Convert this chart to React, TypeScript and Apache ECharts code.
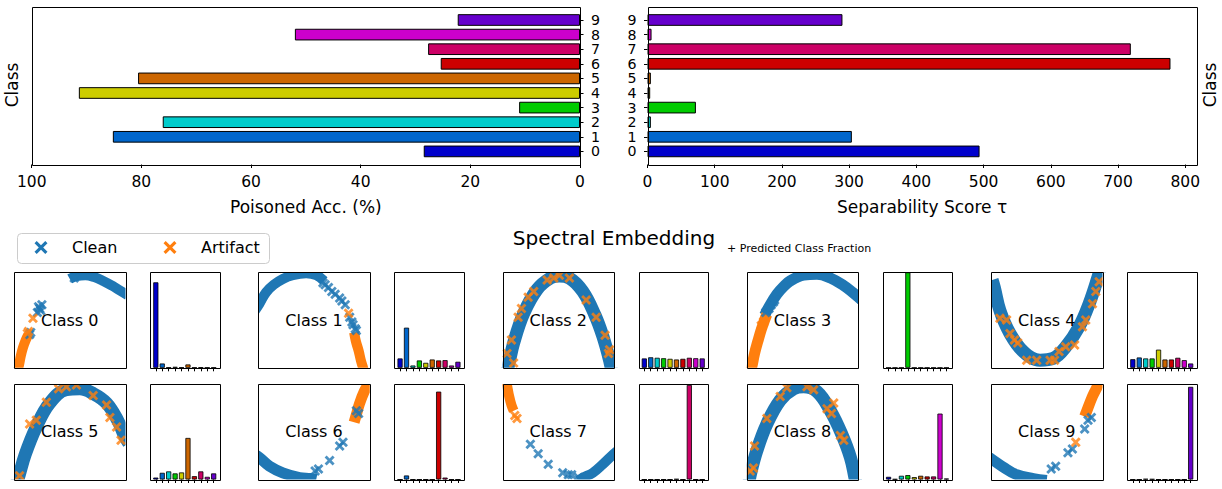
import React, { useEffect, useRef } from "react";
import * as echarts from "echarts";

// ---------- data ----------
const classLabels = ["0", "1", "2", "3", "4", "5", "6", "7", "8", "9"];
const classColors = ["#0000cc", "#0066cc", "#00cccc", "#00cc00", "#cccc00", "#cc6600", "#cc0000", "#cc0066", "#cc00cc", "#6600cc"];
const poisonedAccuracy = [28.5, 85.2, 76.1, 11.1, 91.4, 80.6, 25.4, 27.7, 52.0, 22.3];
const separabilityScore = [494, 304, 5, 72, 4, 5, 778, 719, 6, 290];
const accuracyTicks = [0, 20, 40, 60, 80, 100];
const scoreTicks = [0, 100, 200, 300, 400, 500, 600, 700, 800];

const fractionClass0 = [0.895, 0.045, 0.003, 0.01, 0.003, 0.035, 0.002, 0.004, 0.002, 0.002];
const fractionClass1 = [0.098, 0.42, 0.024, 0.077, 0.052, 0.087, 0.077, 0.08, 0.024, 0.063];
const fractionClass2 = [0.098, 0.11, 0.105, 0.1, 0.094, 0.087, 0.094, 0.105, 0.1, 0.098];
const fractionClass3 = [0, 0, 0, 1.0, 0, 0, 0, 0, 0, 0];
const fractionClass4 = [0.09, 0.108, 0.098, 0.098, 0.19, 0.087, 0.087, 0.105, 0.08, 0.045];
const fractionClass5 = [0.02, 0.07, 0.085, 0.064, 0.074, 0.435, 0.035, 0.085, 0.028, 0.064];
const fractionClass6 = [0, 0.042, 0, 0, 0, 0, 0.92, 0.02, 0, 0];
const fractionClass7 = [0, 0, 0, 0, 0, 0.005, 0, 0.99, 0, 0];
const fractionClass8 = [0.028, 0.004, 0.039, 0.046, 0.025, 0.039, 0.032, 0.032, 0.69, 0.01];
const fractionClass9 = [0, 0, 0.006, 0.004, 0, 0, 0, 0, 0, 0.97];
const predictedFractions = [fractionClass0, fractionClass1, fractionClass2, fractionClass3, fractionClass4,
  fractionClass5, fractionClass6, fractionClass7, fractionClass8, fractionClass9];

// spectral embedding, in panel percent (x left->right, y bottom->top)
const embeddingClass0 = {
  cleanBand: [[50, 93], [56, 96], [64, 97], [72, 95], [80, 91], [88, 86], [95, 81], [102, 76]],
  artifactBand: [[3, -4], [4.5, 3], [6, 12], [8, 21], [10.5, 29], [13, 35]],
  clean: [[21, 58], [23, 62], [25, 66], [24, 60], [22, 64], [15, 37], [14, 35], [54, 94]],
  artifact: [[17, 52], [13, 38], [12, 36]],
};
const embeddingClass1 = {
  cleanBand: [[-3, 60], [1, 67], [7, 79], [14, 87], [22, 93], [31, 97], [43, 99], [52, 97], [59, 91]],
  artifactBand: [[86, 37], [87.5, 28], [90, 18], [92, 8], [94, 0], [95, -4]],
  clean: [[58, 89], [60, 87], [63, 84], [66, 80], [69, 77], [73, 73], [75, 70], [78, 66], [82, 53], [84, 48], [85, 45], [87, 41], [88, 39]],
  artifact: [[81, 57]],
};
const embeddingClass2 = {
  cleanBand: [[3, -5], [5, 1], [10, 26], [19, 57], [31, 82], [43, 94], [51, 96], [60, 94], [72, 80], [83, 55], [90, 33], [96, 8], [98, -4]],
  artifactBand: [],
  clean: [],
  artifact: [[46, 94], [51, 97], [23, 74], [17, 62], [84, 53], [92, 34], [8, 29], [95, 15], [10, 5], [28, 80], [40, 92], [60, 94], [75, 71], [96, 19], [4, 15], [14, 53]],
};
const embeddingClass3 = {
  cleanBand: [[16, 55], [20, 64], [27, 77], [33, 85], [39, 91], [51, 97], [63, 98], [75, 94], [87, 86], [95, 79], [100, 74], [103, 71]],
  artifactBand: [[3, -4], [4.5, 1], [7, 15], [10, 28], [13, 40], [16, 50], [18, 56]],
  clean: [[20, 62], [22, 66], [24, 69], [25, 71], [17, 58]],
  artifact: [[15, 48], [13, 44]],
};
const embeddingClass4 = {
  cleanBand: [[1, 92], [3, 84], [8, 60], [17, 36], [29, 17], [44, 8], [56, 10], [67, 22], [79, 43], [88, 67], [96, 95], [98, 104]],
  artifactBand: [],
  clean: [],
  artifact: [[14, 50], [17, 36], [21, 29], [24, 26], [32, 8], [53, 8], [57, 8], [61, 17], [67, 22], [82, 43], [85, 50], [91, 67], [94, 80], [97, 90], [8, 52], [41, 8], [75, 24]],
};
const embeddingClass5 = {
  cleanBand: [[2, -4], [4, 2], [10, 26], [20, 55], [32, 80], [47, 94], [59, 95], [71, 90], [83, 80], [93, 62], [99, 46], [103, 38]],
  artifactBand: [],
  clean: [],
  artifact: [[40, 95], [47, 97], [56, 99], [14, 58], [20, 62], [83, 78], [86, 65], [92, 55], [5, 4], [29, 81], [71, 88], [96, 41]],
};
const embeddingClass6 = {
  cleanBand: [[-3, 26], [1, 23], [10, 14], [22, 7], [37, 2], [47, 1], [52, 0]],
  artifactBand: [[86, 60], [88, 68], [91, 80], [95, 92], [99, 100], [101, 104]],
  clean: [[51, 9], [54, 11], [64, 20], [73, 35], [76, 39], [88, 72], [90, 69]],
  artifact: [],
};
const embeddingClass7 = {
  cleanBand: [[68, -1], [72, 2], [81, 7], [90, 16], [99, 26], [103, 30]],
  artifactBand: [[3, 104], [4, 99], [6, 87], [8, 78], [10, 72]],
  clean: [[25, 37], [32, 27], [41, 16], [54, 7], [59, 5], [62, 5], [68, 2]],
  artifact: [[11, 67], [13, 64]],
};
const embeddingClass8 = {
  cleanBand: [[2, -4], [3, 4], [9, 30], [18, 58], [30, 83], [42, 95], [51, 97], [63, 92], [75, 72], [85, 48], [93, 23], [97, 2], [98, -4]],
  artifactBand: [],
  clean: [],
  artifact: [[36, 96], [54, 97], [60, 94], [76, 69], [84, 46], [87, 41], [7, 35], [6, 12], [3, 9], [30, 87], [18, 64], [78, 80], [72, 74]],
};
const embeddingClass9 = {
  cleanBand: [[-3, 24], [1, 21], [11, 13], [23, 5], [38, 1], [50, -1]],
  artifactBand: [[84, 66], [85, 69], [91, 87], [96, 99], [97, 104]],
  clean: [[54, 11], [58, 14], [69, 28], [73, 32], [84, 53], [87, 62], [90, 65]],
  artifact: [[76, 39]],
};
const embeddings = [embeddingClass0, embeddingClass1, embeddingClass2, embeddingClass3, embeddingClass4,
  embeddingClass5, embeddingClass6, embeddingClass7, embeddingClass8, embeddingClass9];

// ---------- style / layout ----------
const FONT = "DejaVu Sans";
const CLEAN = "#1f77b4";
const ARTIFACT = "#ff7f0e";
const bandWidths = [10, 10, 13, 11, 13, 13, 11, 10, 13, 11];
const CROSS = "path://M0,2L2,0L5,3L8,0L10,2L7,5L10,8L8,10L5,7L2,10L0,8L3,5Z";

const TOP = { top: 7, bottom: 164.5, catTop: 12.7, catH: 146 };
const LEFT_PLOT = { left: 31.7, right: 580 };
const RIGHT_PLOT = { left: 647.5, right: 1196.7 };
const SC_LEFT0 = 14, HI_LEFT0 = 150, COL_STEP = 244.25, SC_W = 111.5, HI_W = 69.5;
const ROW_TOP = [272.3, 384];
const PANEL_H = 95.5;

function crossPoly(cx: number, cy: number, s: number) {
  const k = s / 10;
  const pts = [[0, 1.7], [1.7, 0], [5, 3.3], [8.3, 0], [10, 1.7], [6.7, 5], [10, 8.3], [8.3, 10], [5, 6.7], [1.7, 10], [0, 8.3], [3.3, 5]];
  return pts.map(([x, y]) => [cx + (x - 5) * k, cy + (y - 5) * k]);
}

function frame(x0: number, y0: number, x1: number, y1: number) {
  return {
    type: "rect",
    z: 100,
    silent: true,
    shape: { x: Math.round(x0) + 0.5, y: Math.round(y0) + 0.5, width: Math.round(x1) - Math.round(x0), height: Math.round(y1) - Math.round(y0) },
    style: { fill: "none", stroke: "#000", lineWidth: 1 },
  };
}

function mask(x: number, y: number, w: number, h: number) {
  return { type: "rect", z: 90, silent: true, shape: { x, y, width: w, height: h }, style: { fill: "#fff" } };
}

function text(x: number, y: number, t: string, size: number, align = "center", rotation = 0) {
  return {
    type: "text",
    x,
    y,
    rotation,
    z: 110,
    silent: true,
    style: {
      text: t,
      font: `${size}px '${FONT}'`,
      fill: "#000",
      align,
      verticalAlign: "middle",
      textAlign: align,
      textVerticalAlign: "middle",
    },
  };
}

function buildOption() {
  const grids: any[] = [];
  const xAxes: any[] = [];
  const yAxes: any[] = [];
  const series: any[] = [];
  const graphics: any[] = [];

  const tickLabelStyle = { color: "#000", fontSize: 15.5, fontFamily: FONT };
  const catLabel = { color: "#000", fontSize: 14.2, lineHeight: 13, fontFamily: FONT, margin: 11, interval: 0 };
  const catTick = { show: true, length: 3.5, alignWithLabel: true, interval: 0, lineStyle: { color: "#000" } };

  // top-left: poisoned accuracy
  grids.push({ left: LEFT_PLOT.left, top: TOP.catTop, width: LEFT_PLOT.right - LEFT_PLOT.left, height: TOP.catH });
  xAxes.push({
    gridIndex: 0, type: "value", min: 0, max: 100, interval: 20, inverse: true, offset: TOP.bottom - TOP.catTop - TOP.catH,
    axisLine: { show: false }, splitLine: { show: false },
    axisTick: { show: true, length: 3.5, lineStyle: { color: "#000" }, customValues: accuracyTicks },
    axisLabel: { ...tickLabelStyle, margin: 9, customValues: accuracyTicks },
  });
  yAxes.push({
    gridIndex: 0, type: "category", data: classLabels, position: "right",
    axisLine: { show: false }, axisTick: catTick, axisLabel: catLabel,
  });
  series.push({
    type: "bar", xAxisIndex: 0, yAxisIndex: 0, barWidth: "80%",
    data: poisonedAccuracy.map((v, i) => ({ value: v, itemStyle: { color: classColors[i] } })),
    itemStyle: { borderColor: "#000", borderWidth: 1 },
  });

  // top-right: separability score
  grids.push({ left: RIGHT_PLOT.left, top: TOP.catTop, width: RIGHT_PLOT.right - RIGHT_PLOT.left, height: TOP.catH });
  xAxes.push({
    gridIndex: 1, type: "value", min: 0, max: 817, offset: TOP.bottom - TOP.catTop - TOP.catH,
    axisLine: { show: false }, splitLine: { show: false },
    axisTick: { show: true, length: 3.5, lineStyle: { color: "#000" }, customValues: scoreTicks },
    axisLabel: { ...tickLabelStyle, margin: 9, customValues: scoreTicks },
  });
  yAxes.push({
    gridIndex: 1, type: "category", data: classLabels, position: "left",
    axisLine: { show: false }, axisTick: catTick, axisLabel: catLabel,
  });
  series.push({
    type: "bar", xAxisIndex: 1, yAxisIndex: 1, barWidth: "80%",
    data: separabilityScore.map((v, i) => ({ value: v, itemStyle: { color: classColors[i] } })),
    itemStyle: { borderColor: "#000", borderWidth: 1 },
  });

  graphics.push(frame(LEFT_PLOT.left, TOP.top, LEFT_PLOT.right, TOP.bottom));
  graphics.push(frame(RIGHT_PLOT.left, TOP.top, RIGHT_PLOT.right, TOP.bottom));
  graphics.push(text(12, 85, "Class", 17, "center", Math.PI / 2));
  graphics.push(text(1210, 85, "Class", 17, "center", Math.PI / 2));
  graphics.push(text((LEFT_PLOT.left + LEFT_PLOT.right) / 2, 207, "Poisoned Acc. (%)", 17));
  graphics.push(text((RIGHT_PLOT.left + RIGHT_PLOT.right) / 2, 207, "Separability Score τ", 17));

  // legend + titles
  graphics.push({
    type: "rect", z: 100, silent: true,
    shape: { x: 17.5, y: 233.5, width: 252, height: 30, r: 4 },
    style: { fill: "#fff", stroke: "#cccccc", lineWidth: 1 },
  });
  graphics.push({ type: "polygon", z: 105, silent: true, shape: { points: crossPoly(41, 247.5, 13) }, style: { fill: CLEAN } });
  graphics.push({ type: "polygon", z: 105, silent: true, shape: { points: crossPoly(170, 247.5, 13) }, style: { fill: ARTIFACT } });
  graphics.push(text(72, 247.5, "Clean", 16, "left"));
  graphics.push(text(201, 247.5, "Artifact", 16, "left"));
  graphics.push(text(614, 237.5, "Spectral Embedding", 20));
  graphics.push(text(727, 248, "+ Predicted Class Fraction", 11, "left"));

  // small panels
  for (let c = 0; c < 10; c++) {
    const col = c % 5;
    const row = Math.floor(c / 5);
    const top = ROW_TOP[row];
    const scLeft = SC_LEFT0 + col * COL_STEP;
    const hiLeft = HI_LEFT0 + col * COL_STEP;
    const sIdx = grids.length;
    grids.push({ left: scLeft, top, width: SC_W, height: PANEL_H });
    xAxes.push({ gridIndex: sIdx, type: "value", min: 0, max: 100, show: false });
    yAxes.push({ gridIndex: sIdx, type: "value", min: 0, max: 100, show: false });
    const e = embeddings[c];
    const bandStyle = (color: string) => ({ color, width: bandWidths[c], cap: "butt", join: "round" });
    if (e.cleanBand.length) {
      series.push({ type: "line", xAxisIndex: sIdx, yAxisIndex: sIdx, data: e.cleanBand, smooth: 0.4, symbol: "none", showSymbol: false, lineStyle: bandStyle(CLEAN), z: 2, clip: true, silent: true });
    }
    if (e.artifactBand.length) {
      series.push({ type: "line", xAxisIndex: sIdx, yAxisIndex: sIdx, data: e.artifactBand, smooth: 0.4, symbol: "none", showSymbol: false, lineStyle: bandStyle(ARTIFACT), z: 3, clip: true, silent: true });
    }
    if (e.clean.length) {
      series.push({ type: "scatter", xAxisIndex: sIdx, yAxisIndex: sIdx, data: e.clean, symbol: CROSS, symbolSize: 10, itemStyle: { color: CLEAN }, z: 4, clip: true, silent: true });
    }
    if (e.artifact.length) {
      series.push({ type: "scatter", xAxisIndex: sIdx, yAxisIndex: sIdx, data: e.artifact, symbol: CROSS, symbolSize: 10, itemStyle: { color: ARTIFACT }, z: 5, clip: true, silent: true });
    }

    const hIdx = grids.length;
    grids.push({ left: hiLeft + 2.6, top, width: HI_W - 5.2, height: PANEL_H });
    xAxes.push({
      gridIndex: hIdx, type: "category", data: classLabels,
      axisLine: { show: false }, axisLabel: { show: false, interval: 0 },
      axisTick: { show: true, length: 3.5, alignWithLabel: true, interval: 0, lineStyle: { color: "#000" } },
    });
    yAxes.push({ gridIndex: hIdx, type: "value", min: 0, max: 1, show: false });
    series.push({
      type: "bar", xAxisIndex: hIdx, yAxisIndex: hIdx, barWidth: "80%", silent: true,
      data: predictedFractions[c].map((v, i) => ({ value: v, itemStyle: { color: classColors[i] } })),
      itemStyle: { borderColor: "#000", borderWidth: 0.8 },
    });

    // white masks hide the part of thick bands that spills past the panel edge
    const m = 10;
    graphics.push(mask(scLeft - m, top - m, SC_W + 2 * m, m));
    graphics.push(mask(scLeft - m, top + PANEL_H, SC_W + 2 * m, m));
    graphics.push(mask(scLeft - m, top, m, PANEL_H));
    graphics.push(mask(scLeft + SC_W, top, m, PANEL_H));

    graphics.push(frame(scLeft, top, scLeft + SC_W, top + PANEL_H));
    graphics.push(frame(hiLeft, top, hiLeft + HI_W, top + PANEL_H));
    graphics.push(text(scLeft + SC_W / 2, top + PANEL_H / 2, `Class ${c}`, 16));
  }

  return {
    animation: false,
    backgroundColor: "#fff",
    textStyle: { fontFamily: FONT },
    grid: grids,
    xAxis: xAxes,
    yAxis: yAxes,
    series,
    graphic: { elements: graphics },
  };
}

export default function App() {
  const ref = useRef<HTMLDivElement>(null);
  useEffect(() => {
    if (!ref.current) return;
    const chart = echarts.init(ref.current, undefined, { renderer: "svg" });
    chart.setOption(buildOption() as any);
    return () => chart.dispose();
  }, []);
  return (
    <div
      ref={ref}
      style={{ position: "fixed", left: 0, top: 0, width: 1222, height: 489, background: "#fff" }}
    />
  );
}
